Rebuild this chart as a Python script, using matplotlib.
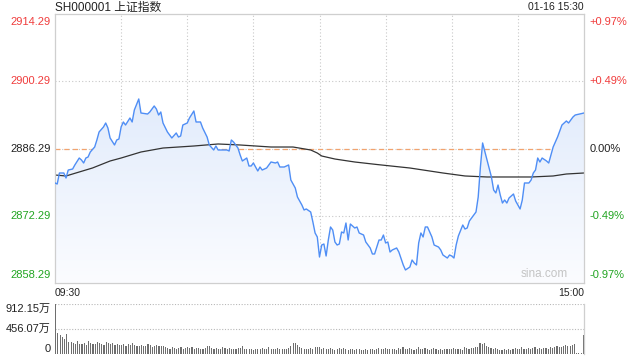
import numpy as np
import matplotlib
matplotlib.use("Agg")
import matplotlib.pyplot as plt
from matplotlib.colors import LinearSegmentedColormap
from matplotlib.transforms import blended_transform_factory

plt.rcParams['font.family'] = ['Liberation Sans', 'Noto Sans CJK SC', 'DejaVu Sans']

# ---- data ----
pre_close = 2886.29
price_ticks = [2914.29, 2900.29, 2886.29, 2872.29, 2858.29]
pct_ticks = ['+0.97%', '+0.49%', '0.00%', '-0.49%', '-0.97%']

# minute index (0 = 09:30, 120 = 11:30/13:00, 240 = 15:00) and index level
minutes = [0, 1, 2, 4, 5, 6, 8, 9, 11, 12, 13, 14, 15, 16, 18, 19, 20, 22, 23, 24,
           25, 27, 28, 29, 30, 31, 32, 34, 35, 36, 38, 39, 42, 43, 45, 46, 47, 48, 49, 51,
           53, 55, 56, 57, 58, 60, 61, 63, 64, 66, 67, 69, 70, 72, 73, 74, 76, 78, 79, 80,
           81, 83, 84, 85, 87, 88, 89, 90, 92, 93, 94, 96, 98, 100, 101, 102, 104, 106, 107, 109,
           110, 112, 113, 114, 116, 117, 118, 119, 120, 121, 122, 123, 124, 125, 126, 127, 128, 129, 130, 131,
           132, 133, 134, 136, 137, 138, 140, 141, 143, 144, 145, 147, 148, 149, 150, 151, 152, 153, 155, 156,
           158, 159, 161, 162, 163, 164, 165, 166, 167, 168, 169, 170, 171, 172, 174, 175, 176, 178, 179, 180,
           181, 182, 183, 185, 186, 187, 188, 190, 191, 192, 193, 194, 196, 198, 199, 200, 201, 202, 203, 204,
           205, 206, 208, 209, 211, 212, 213, 215, 216, 217, 218, 219, 220, 221, 223, 224, 226, 228, 229, 230,
           232, 233, 235, 236, 238, 240]
prices = [2879.11, 2878.90, 2881.19, 2881.19, 2880.15, 2881.81, 2882.02, 2882.86, 2884.31, 2883.90,
          2883.27, 2884.31, 2884.52, 2885.56, 2886.60, 2888.06, 2889.73, 2890.77, 2891.60, 2890.56,
          2888.48, 2887.02, 2888.06, 2888.27, 2890.77, 2891.81, 2891.18, 2892.64, 2891.81, 2894.31,
          2896.60, 2893.68, 2893.47, 2893.89, 2895.14, 2894.51, 2893.26, 2893.89, 2891.60, 2889.73,
          2888.48, 2889.52, 2888.68, 2888.89, 2891.18, 2891.60, 2892.64, 2894.10, 2891.81, 2891.81,
          2890.56, 2888.68, 2887.02, 2885.98, 2886.81, 2885.98, 2885.98, 2885.98, 2885.77, 2888.06,
          2887.64, 2886.39, 2884.94, 2883.69, 2884.31, 2882.65, 2882.65, 2883.27, 2881.61, 2882.44,
          2881.81, 2882.23, 2883.48, 2883.27, 2883.48, 2882.44, 2882.44, 2882.86, 2879.73, 2878.07,
          2876.19, 2874.53, 2873.49, 2873.70, 2873.07, 2870.99, 2868.70, 2867.87, 2863.70, 2866.20,
          2866.41, 2863.91, 2867.24, 2869.95, 2869.32, 2866.83, 2866.20, 2866.41, 2868.91, 2868.70,
          2870.78, 2867.24, 2870.57, 2869.74, 2869.95, 2868.70, 2868.28, 2866.83, 2865.58, 2864.33,
          2864.33, 2867.24, 2867.24, 2868.28, 2866.62, 2866.83, 2864.74, 2865.16, 2865.58, 2864.74,
          2862.04, 2861.00, 2861.62, 2863.08, 2862.45, 2862.04, 2866.62, 2868.70, 2867.87, 2869.95,
          2869.95, 2868.91, 2867.87, 2866.20, 2865.78, 2865.16, 2864.12, 2863.49, 2864.12, 2863.91,
          2863.49, 2866.20, 2868.07, 2870.36, 2869.53, 2869.74, 2871.20, 2872.45, 2873.07, 2876.19,
          2882.44, 2887.44, 2883.90, 2880.36, 2877.65, 2877.03, 2878.69, 2876.61, 2874.94, 2875.57,
          2874.94, 2875.99, 2876.82, 2875.36, 2873.70, 2875.57, 2879.11, 2879.11, 2879.73, 2881.19,
          2881.81, 2884.31, 2883.48, 2884.31, 2883.69, 2883.27, 2886.60, 2888.68, 2889.93, 2891.18,
          2892.02, 2891.60, 2892.85, 2893.26, 2893.47, 2893.68]

# average price line
avg_minutes = [0, 5, 11, 17, 25, 30, 39, 49, 63, 74, 84, 98, 108, 116, 119, 121, 127,
               136, 146, 161, 176, 186, 196, 216, 226, 232, 240]
avg_prices = [2880.77, 2880.57, 2881.40, 2882.23, 2883.69, 2884.31, 2885.56, 2886.39, 2886.81,
              2887.23, 2887.02, 2886.60, 2886.60, 2885.98, 2885.35, 2884.73, 2884.10, 2883.48,
              2882.96, 2882.23, 2881.19, 2880.57, 2880.36, 2880.36, 2880.57, 2880.98, 2881.19]

# volume per minute, in 万
vol = [912, 385, 350, 305, 265, 370, 225, 215, 205, 185,
       240, 190, 190, 195, 170, 230, 200, 180, 175, 215,
       205, 190, 165, 210, 195, 175, 195, 160, 185, 170,
       165, 185, 150, 175, 160, 195, 170, 150, 145, 165,
       140, 155, 180, 160, 135, 145, 170, 155, 140, 150,
       130, 110, 100, 120, 115, 95, 110, 125, 100, 105,
       130, 115, 120, 95, 105, 110, 100, 90, 115, 145,
       150, 105, 95, 110, 90, 100, 120, 105, 95, 110,
       100, 95, 85, 105, 110, 150, 100, 90, 95, 85,
       80, 90, 100, 95, 105, 85, 100, 120, 95, 90,
       95, 110, 100, 90, 95, 85, 105, 150, 195, 200,
       170, 120, 105, 95, 100, 90, 110, 100, 125, 130,
       120, 95, 110, 85, 100, 115, 90, 80, 95, 105,
       85, 110, 95, 80, 90, 100, 75, 85, 95, 80,
       70, 85, 75, 90, 100, 80, 95, 110, 85, 90,
       115, 95, 85, 100, 90, 80, 105, 95, 130, 100,
       90, 115, 85, 80, 100, 120, 95, 85, 110, 90,
       80, 95, 105, 85, 75, 90, 80, 100, 85, 95,
       90, 110, 85, 100, 95, 80, 120, 105, 90, 115,
       110, 130, 120, 200, 185, 205, 150, 120, 105, 95,
       110, 85, 80, 70, 90, 75, 85, 80, 95, 110,
       90, 85, 120, 100, 95, 105, 85, 110, 120, 95,
       105, 90, 115, 110, 95, 125, 105, 130, 140, 120,
       135, 150, 160, 140, 155, 165, 175, 15, 10, 12,
       350]
vol_ticks = [912.15, 456.07, 0]
vol_labels = ['912.15万', '456.07万', '0']

RED = '#f03c3c'
GREEN = '#22a522'
GRID = '#c8c8c8'
BORDER = '#cfcfcf'

fig = plt.figure(figsize=(6.4, 3.6), dpi=100)
ax = fig.add_axes([55 / 640, 1 - 283 / 360, 529 / 640, 269 / 360])
vax = fig.add_axes([55 / 640, 1 - 354 / 360, 529 / 640, 50 / 360])

ymin, ymax = price_ticks[-1], price_ticks[0]
ax.set_xlim(0, 240)
ax.set_ylim(ymin, ymax)
ax.set_xticks([])
ax.set_yticks([])
for s in ax.spines.values():
    s.set_color(BORDER)
    s.set_linewidth(0.9)

# grid
for m in range(30, 240, 30):
    ax.axvline(m, color=GRID, lw=0.8, ls=(0, (1, 2)), zorder=0.5)
for p in price_ticks[1:-1]:
    ax.axhline(p, color=GRID, lw=0.8, ls=(0, (1, 2)), zorder=0.5)
ax.axhline(pre_close, color='#f2a36e', lw=0.9, ls=(0, (4, 3)), zorder=0.6)

# gradient fill under the price line
cmap = LinearSegmentedColormap.from_list('fill', ['#d6e4fa', '#fbfcff'])
grad = np.linspace(0, 1, 256).reshape(-1, 1)
img = ax.imshow(grad, cmap=cmap, aspect='auto', extent=[0, 240, ymin, ymax],
                origin='upper', zorder=1)
poly = ax.fill_between(minutes, prices, ymin, facecolor='none', edgecolor='none')
img.set_clip_path(poly.get_paths()[0], transform=ax.transData)

ax.plot(minutes, prices, color='#4f8ef5', lw=1.0, zorder=3)
ax.plot(avg_minutes, avg_prices, color='#333333', lw=0.9, zorder=2.5)

# left / right axis labels
tl = blended_transform_factory(ax.transAxes, ax.transData)
colors = [RED, RED, '#222222', GREEN, GREEN]
for i, (p, pct, c) in enumerate(zip(price_ticks, pct_ticks, colors)):
    va = 'top' if i == 0 else ('bottom' if i == len(price_ticks) - 1 else 'center')
    off = -0.6 if i == 0 else (0.6 if i == len(price_ticks) - 1 else 0)
    ax.text(-0.008, p + off, f'{p:.2f}', transform=tl, ha='right', va=va,
            color=c, fontsize=8)
    ax.text(1.011, p + off, pct, transform=tl, ha='left', va=va,
            color=c, fontsize=8)

ax.text(0.97, 0.012, 'sina.com', transform=ax.transAxes, ha='right', va='bottom',
        color='#c4c4c4', fontsize=8.5)

# header / time labels
fig.text(55 / 640, 1 - 7.5 / 360, 'SH000001 上证指数', ha='left', va='center',
         fontsize=8.5, color='#222222')
fig.text(584 / 640, 1 - 7.5 / 360, '01-16 15:30', ha='right', va='center',
         fontsize=7.5, color='#222222')
fig.text(55 / 640, 1 - 293 / 360, '09:30', ha='left', va='center',
         fontsize=7.5, color='#222222')
fig.text(584 / 640, 1 - 293 / 360, '15:00', ha='right', va='center',
         fontsize=7.5, color='#222222')

# volume panel
vx = np.arange(len(vol))
vax.bar(vx, vol, width=0.5, color='#6e6e6e', zorder=2)
vax.set_xlim(-0.3, 240.3)
vax.set_ylim(0, vol_ticks[0])
vax.set_xticks([])
vax.set_yticks([])
for k in ['top', 'bottom', 'left']:
    vax.spines[k].set_visible(False)
vax.spines['right'].set_color(BORDER)
vax.spines['right'].set_linewidth(0.9)
for v in vol_ticks[:2]:
    vax.axhline(v, color='#b8b8b8', lw=0.8, ls=(0, (1, 1.5)), zorder=1)
tv = blended_transform_factory(vax.transAxes, vax.transData)
for v, lab in zip(vol_ticks, vol_labels):
    va = 'top' if v == vol_ticks[0] else ('bottom' if v == 0 else 'center')
    vax.text(-0.008, v, lab, transform=tv, ha='right', va=va, fontsize=8,
             color='#222222')

fig.savefig('out.png', dpi=100)
